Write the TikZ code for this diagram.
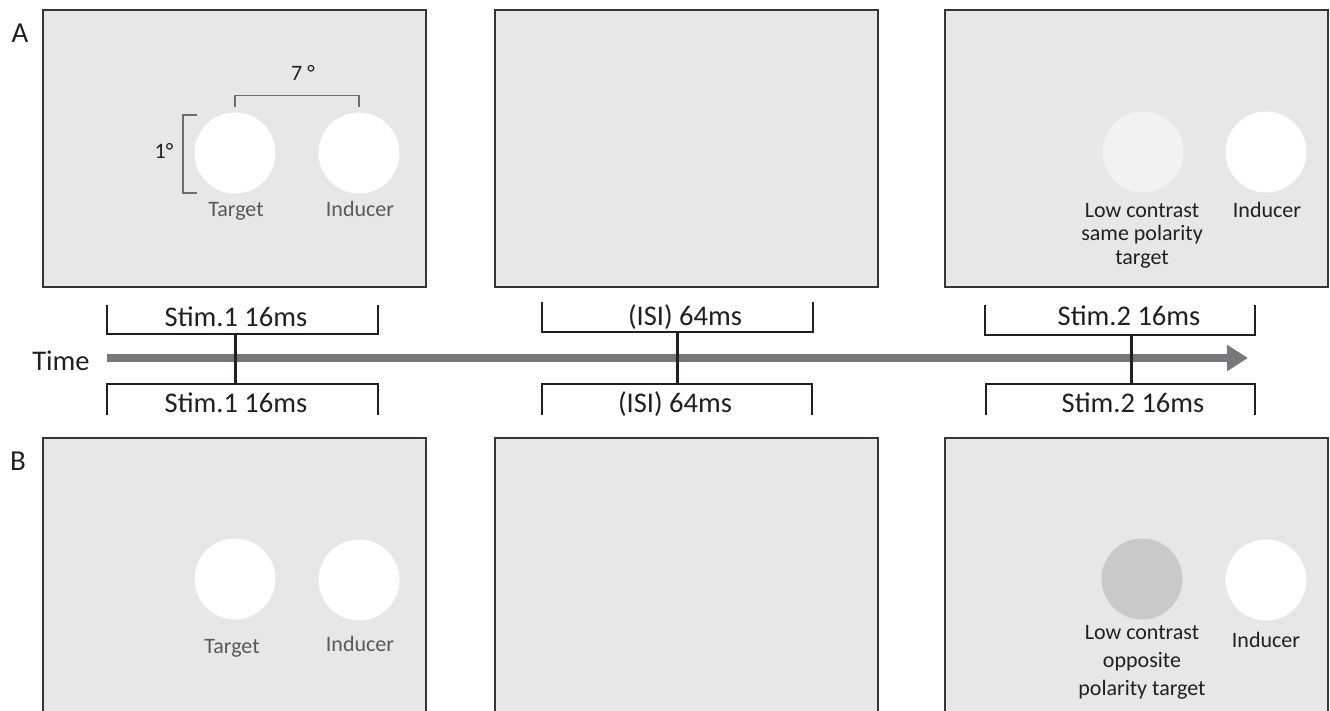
\documentclass[tikz,border=0pt]{standalone}
\usepackage{fontspec}
\setmainfont{Carlito}
\usetikzlibrary{arrows.meta}
\definecolor{scr}{HTML}{E6E7E8}
\definecolor{lowc}{HTML}{F1F2F3}
\definecolor{opp}{HTML}{C8C9CB}
\definecolor{arrc}{HTML}{77787B}
\definecolor{lbl}{HTML}{58595B}
\definecolor{txt}{HTML}{231F20}
\definecolor{dimc}{HTML}{6D6E71}
\begin{document}
\begin{tikzpicture}[x=1pt,y=-1pt,
  screen/.style={draw=txt!90, line width=1.6pt, fill=scr, inner sep=0pt, anchor=north west, minimum width=383pt},
  disc/.style={circle, minimum size=81pt, inner sep=0pt, draw=none},
  lab/.style={anchor=base, inner sep=0pt, text=lbl, font=\fontsize{22}{26}\selectfont},
  dlab/.style={anchor=base, inner sep=0pt, text=txt, font=\fontsize{22}{26}\selectfont},
  tlab/.style={anchor=base, inner sep=0pt, text=txt, font=\fontsize{28.5}{32}\selectfont},
  panel/.style={anchor=base, inner sep=0pt, text=txt, font=\fontsize{29}{34}\selectfont},
  dimline/.style={draw=dimc, line width=1.3pt},
  brk/.style={draw=txt, line width=1.5pt},
  stem/.style={draw=txt, line width=3pt},
  timearrow/.style={draw=arrc, line width=8pt, -{Triangle[length=21pt,width=25pt]}}
]
\useasboundingbox (0,0) rectangle (1330,711);
\clip (0,0) rectangle (1330,711);

% panel labels
\node[panel] (pA) at (20,43) {A};
\node[panel] (pB) at (18,470) {B};

% screens A
\node[screen, minimum height=277pt] (sA1) at (42,9) {};
\node[screen, minimum height=277pt] (sA2) at (494,9) {};
\node[screen, minimum height=277pt] (sA3) at (944,9) {};
% screens B
\node[screen, minimum height=300pt] (sB1) at (42,437) {};
\node[screen, minimum height=300pt] (sB2) at (494,437) {};
\node[screen, minimum height=300pt] (sB3) at (944,437) {};

% discs A
\node[disc, fill=white] (tA1) at (235,153) {};
\node[disc, fill=white] (iA1) at (359,153) {};
\node[disc, fill=lowc] (tA3) at (1143,152) {};
\node[disc, fill=white] (iA3) at (1266,152) {};
% discs B
\node[disc, fill=white] (tB1) at (235,579) {};
\node[disc, fill=white] (iB1) at (359,580) {};
\node[disc, fill=opp] (tB3) at (1142,579) {};
\node[disc, fill=white] (iB3) at (1266,580) {};

% dimension brackets
\draw[dimline] ([yshift=5pt]tA1.north) -- ++(0,-12) -| ([yshift=5pt]iA1.north);
\node[dlab] (d7) at (303,81) {7 °};
\coordinate (d1t) at (197,115);
\coordinate (d1b) at (197,193);
\draw[dimline] (d1t) -- ++(-14,0) -- ++(0,78) -- (d1b);
\node[dlab] (d1) at (164,159) {1°};

% labels A
\node[lab] (ltA1) at (236,217) {Target};
\node[lab] (liA1) at (360,217) {Inducer};
\node[dlab] (ltA3a) at (1142,218) {Low contrast};
\node[dlab] (ltA3b) at (1142,241) {same polarity};
\node[dlab] (ltA3c) at (1142,265) {target};
\node[dlab] (liA3) at (1267,218) {Inducer};
% labels B
\node[lab] (ltB1) at (232,653) {Target};
\node[lab] (liB1) at (360,651) {Inducer};
\node[dlab] (ltB3a) at (1142,639) {Low contrast};
\node[dlab] (ltB3b) at (1142,667) {opposite};
\node[dlab] (ltB3c) at (1142,695) {polarity target};
\node[dlab] (liB3) at (1266,647) {Inducer};

% time axis
\node[tlab] (time) at (61,370) {Time};
\coordinate (tstart) at (107,358);
\coordinate (tend) at (1248,358);
\draw[timearrow] (tstart) -- (tend);

% top brackets
\draw[brk] (107,305) -- (107,334) coordinate (s1l) -- (378,334) coordinate (s1r) -- (378,305);
\coordinate (s1t) at (235,334);
\node[tlab] (st1) at (236,326) {Stim.1 16ms};
\draw[brk] (542,302) -- (542,332) -- (813,332) -- (813,302);
\coordinate (s2t) at (677,332);
\node[tlab] (st2) at (685,325) {(ISI) 64ms};
\draw[brk] (985,305) -- (985,335) -- (1255,335) -- (1255,305);
\coordinate (s3t) at (1131,335);
\node[tlab] (st3) at (1129,325) {Stim.2 16ms};

% bottom brackets
\draw[brk] (107,415) -- (107,384) -- (378,384) -- (378,415);
\coordinate (s1b) at (235,384);
\node[tlab] (sb1) at (236,412) {Stim.1 16ms};
\draw[brk] (542,415) -- (542,384) -- (812,384) -- (812,415);
\coordinate (s2b) at (677,384);
\node[tlab] (sb2) at (675,412) {(ISI) 64ms};
\draw[brk] (986,415) -- (986,384) -- (1255,384) -- (1255,415);
\coordinate (s3b) at (1131,384);
\node[tlab] (sb3) at (1133,412) {Stim.2 16ms};

% stems
\draw[stem] (s1t) -- (s1b);
\draw[stem] (s2t) -- (s2b);
\draw[stem] (s3t) -- (s3b);
\end{tikzpicture}
\end{document}
